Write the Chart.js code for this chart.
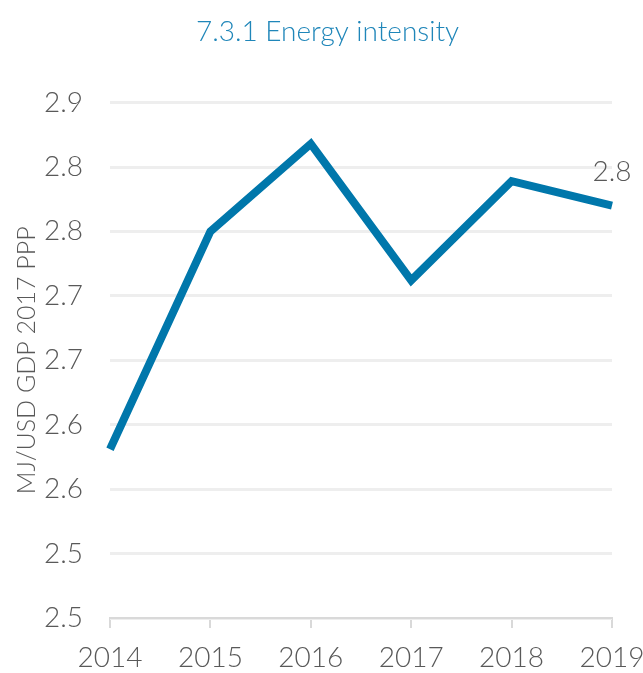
<!DOCTYPE html>
<html>
<head>
<meta charset="utf-8">
<script src="https://cdn.jsdelivr.net/npm/chart.js@4"></script>
<style>
  html, body { margin: 0; padding: 0; background: #fff; }
  #wrap { width: 643px; height: 673px; }
</style>
</head>
<body>
<div id="wrap"><canvas id="energyChart" width="643" height="673"></canvas></div>
<script>
// chart data
const years = ["2014", "2015", "2016", "2017", "2018", "2019"];
const intensity = [2.631, 2.80, 2.868, 2.762, 2.839, 2.820];
const yTickLabels = ["2.5", "2.5", "2.6", "2.6", "2.7", "2.7", "2.8", "2.8", "2.9"];
const lastLabel = "2.8";

const fontFace = "Lato, 'Open Sans', sans-serif";
const grey = "#595959";

// draws the value label above the last point
const lastValueLabel = {
    id: "lastValueLabel",
    afterDatasetsDraw(chart) {
        const meta = chart.getDatasetMeta(0);
        const pt = meta.data[meta.data.length - 1];
        const ctx = chart.ctx;
        ctx.save();
        ctx.font = "300 28px " + fontFace;
        ctx.fillStyle = grey;
        ctx.textAlign = "center";
        ctx.textBaseline = "middle";
        ctx.fillText(lastLabel, pt.x, pt.y - 34);
        ctx.restore();
    }
};

const ctx = document.getElementById("energyChart").getContext("2d");

new Chart(ctx, {
    type: "line",
    data: {
        labels: years,
        datasets: [{
            label: "Energy intensity",
            data: intensity,
            borderColor: "#0077ab",
            borderWidth: 8,
            pointRadius: 0,
            tension: 0,
            borderJoinStyle: "miter",
            fill: false
        }]
    },
    options: {
        responsive: false,
        animation: false,
        layout: { padding: { top: 8, right: 0, left: 12, bottom: 0 } },
        plugins: {
            legend: { display: false },
            tooltip: { enabled: false },
            title: {
                display: true,
                text: "7.3.1 Energy intensity",
                color: "#1f86b9",
                font: { family: fontFace, size: 28, weight: "300" },
                padding: { top: 7, bottom: 54 }
            }
        },
        scales: {
            x: {
                offset: false,
                border: { display: true, color: "#d9d9d9", width: 2 },
                grid: { drawOnChartArea: false, drawTicks: true, tickLength: 10, color: "#d9d9d9", lineWidth: 2 },
                afterFit: (scale) => {
                    scale.height = 55;
                    scale.paddingRight = 31;
                    scale.paddingLeft = 0;
                },
                ticks: { color: grey, font: { family: fontFace, size: 28, weight: "300" }, padding: 13, maxRotation: 0 }
            },
            y: {
                min: 2.5,
                max: 2.9,
                border: { display: false },
                grid: { color: "#eeeeee", lineWidth: 3, drawTicks: false },
                afterFit: (scale) => { scale.width = 98; },
                ticks: {
                    stepSize: 0.05,
                    color: grey,
                    padding: 27,
                    font: { family: fontFace, size: 28, weight: "300" },
                    callback: (v, i) => yTickLabels[i]
                },
                title: {
                    display: true,
                    text: "MJ/USD GDP 2017 PPP",
                    color: grey,
                    font: { family: fontFace, size: 25, weight: "300" },
                    padding: { top: 0, bottom: 0 }
                }
            }
        }
    },
    plugins: [lastValueLabel]
});
</script>
</body>
</html>
